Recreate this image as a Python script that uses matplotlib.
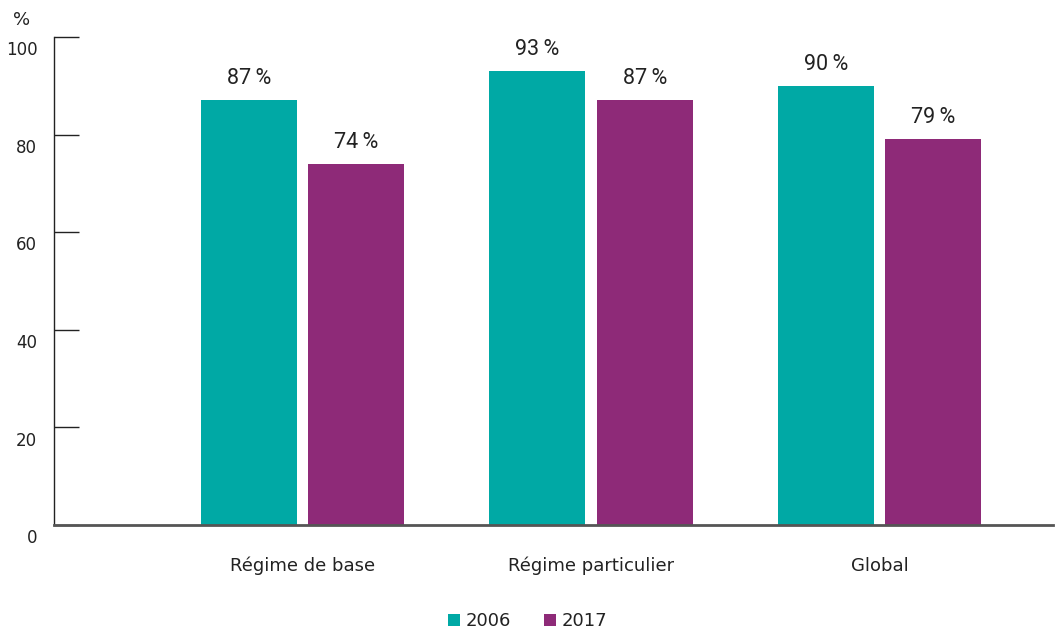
import numpy as np
import matplotlib.pyplot as plt
from matplotlib.transforms import ScaledTranslation

# data
categories = ['Régime de base', 'Régime particulier', 'Global']
years = ['2006', '2017']
values_2006 = [87, 93, 90]
values_2017 = [74, 87, 79]
yticks = [0, 20, 40, 60, 80, 100]

teal = '#00A9A5'
purple = '#8E2A78'
txt = '#222222'

plt.rcParams['font.family'] = ['DejaVu Sans']

fig = plt.figure(figsize=(10.55, 6.32), dpi=100)
ax = fig.add_axes([0.0512, 0.1693, 0.9468, 0.7722])

x = np.arange(len(categories))
w = 0.333
off = 0.186
b1 = ax.bar(x - off, values_2006, w, color=teal, label=years[0])
b2 = ax.bar(x + off, values_2017, w, color=purple, label=years[1])

# value labels above bars
for bars in (b1, b2):
    for b in bars:
        ax.annotate(f'{b.get_height():.0f}\u2009%',
                    (b.get_x() + b.get_width() / 2, b.get_height()),
                    xytext=(0, 8), textcoords='offset points',
                    ha='center', va='bottom', fontsize=15.5,
                    family=['Roboto', 'DejaVu Sans'], color=txt)

ax.set_xlim(-0.861, 2.601)
ax.set_ylim(0, 100)

# y axis: inward ticks, labels shifted slightly down
ax.set_yticks(yticks)
ax.tick_params(axis='y', direction='in', length=18, width=1, color='#222222',
               pad=12, labelsize=12, labelcolor=txt)
shift = ScaledTranslation(0, -3 / 72, fig.dpi_scale_trans)
for lab in ax.get_yticklabels():
    lab.set_va('top')
    lab.set_transform(lab.get_transform() + shift)

ax.set_xticks(x)
ax.set_xticklabels(categories)
ax.tick_params(axis='x', length=0, pad=23, labelsize=13, labelcolor=txt)

for s in ['top', 'right']:
    ax.spines[s].set_visible(False)
ax.spines['left'].set_color('#222222')
ax.spines['left'].set_linewidth(1)
ax.spines['bottom'].set_color('#555555')
ax.spines['bottom'].set_linewidth(2)

fig.text(0.0209, 0.968, '%', fontsize=13, color=txt, ha='center', va='center')

fig.legend(loc='center', bbox_to_anchor=(0.5, 0.017), ncol=2, frameon=False,
           handlelength=0.7, handleheight=0.7, handletextpad=0.3,
           columnspacing=1.8, fontsize=13, labelcolor=txt, borderpad=0.2)

fig.savefig('out.png', dpi=100)
